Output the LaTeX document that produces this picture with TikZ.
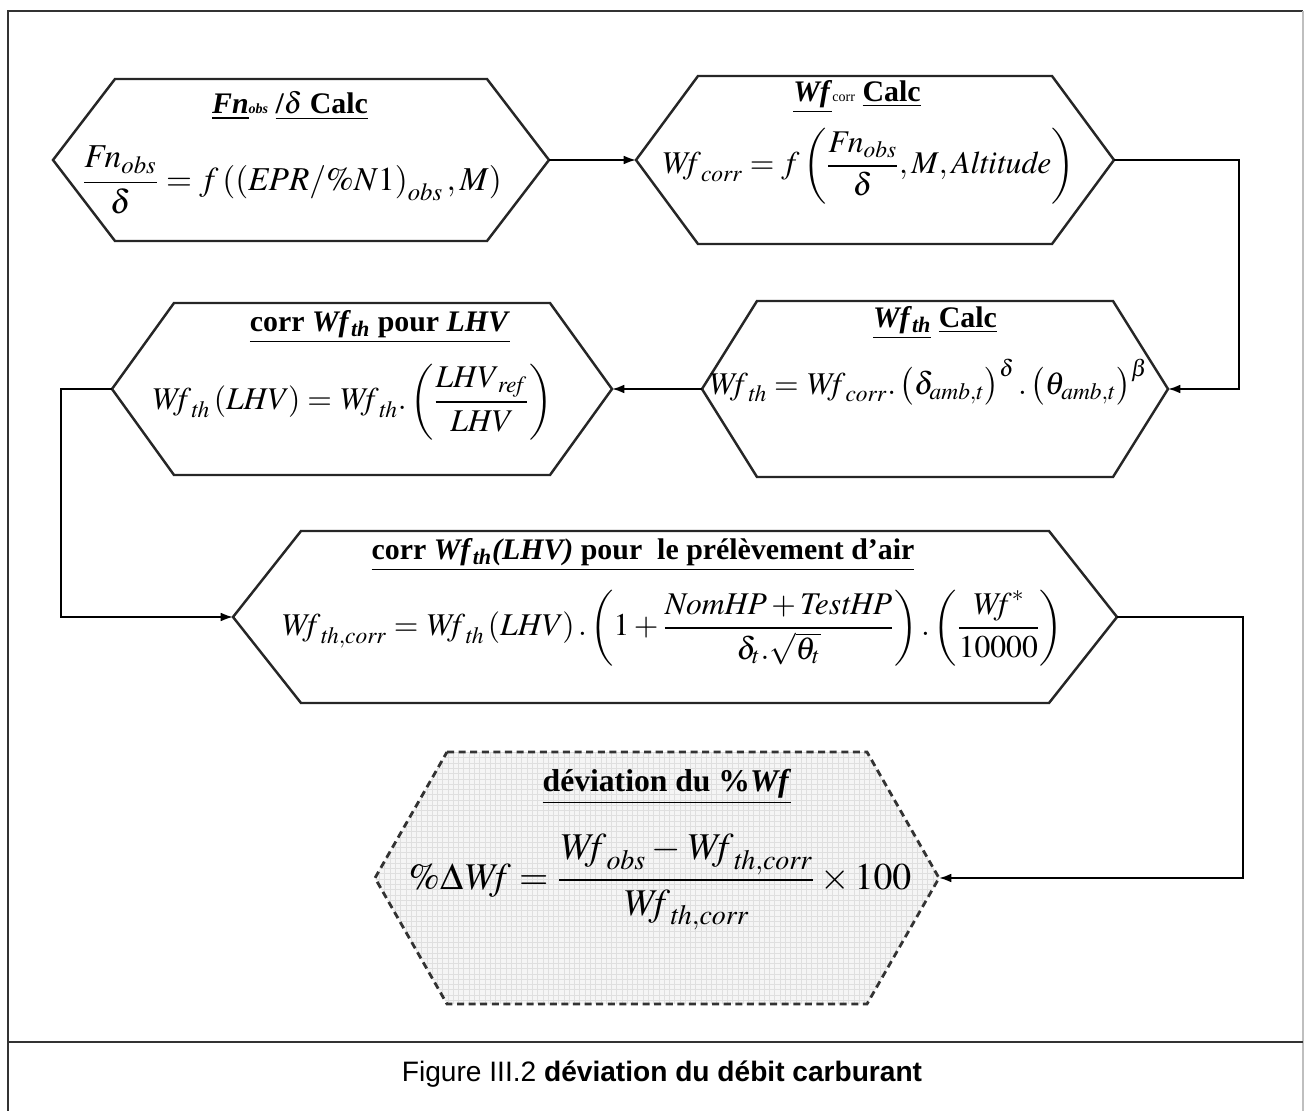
\documentclass[tikz,border=0pt]{standalone}
\usepackage{mathptmx}
\usepackage{amsmath}
\usepackage{fontspec}
\setmainfont{Liberation Serif}
\setsansfont{Liberation Sans}
\usetikzlibrary{positioning,calc,arrows.meta,patterns}

% hexagon round a centre coordinate: [style] name, half width, half height, tip
\newcommand{\hexbox}[5][]{%
  \draw[hexline,#1] ($(#2)+(-#3,-#4)$) -- ($(#2)+(#3,-#4)$) -- ($(#2)+(#3+#5,0)$) coordinate (#2-r)
    -- ($(#2)+(#3,#4)$) -- ($(#2)+(-#3,#4)$) -- ($(#2)+(-#3-#5,0)$) coordinate (#2-l) -- cycle;}

\begin{document}
\begin{tikzpicture}[
  x=0.02cm, y=-0.02cm,
  hexline/.style={draw=black!85, line width=1.4pt, line join=miter},
  devline/.style={draw=black!80, line width=1.6pt, dash pattern=on 4pt off 2.6pt,
    preaction={fill=gray!8}, pattern=grid, pattern color=gray!25},
  ttl/.style={font=\fontsize{17}{20}\selectfont\bfseries, inner sep=1pt},
  eqn/.style={font=\fontsize{18}{22}\selectfont, inner sep=1pt},
  capt/.style={font=\sffamily\fontsize{16}{19}\selectfont, inner sep=1pt},
  arr/.style={-{Latex[length=7pt,width=5pt]}, line width=1.1pt},
  frame/.style={line width=1.1pt, draw=black!80},
]
\useasboundingbox (0,0) rectangle (1305,1111);

% Frame
\draw[frame] (8,1111) |- (1303,11);
\draw[frame, draw=black!25, line width=0.6pt] (1303,11) -- (1303,1111);
\draw[frame] (8,1042) -- (1303,1042);

% Centres
\coordinate (fn)     at (301,160);
\coordinate (wfcorr) at (875,160);
\coordinate (wfth)   at (935,389);
\coordinate (lhv)    at (362,389);
\coordinate (bleed)  at (675,617);
\coordinate (dev)    at (657,878);

% Hexagons
\hexbox{fn}{186}{81}{62}
\hexbox{wfcorr}{177}{84}{62}
\hexbox{wfth}{178}{88}{55}
\hexbox{lhv}{188}{86}{62}
\hexbox{bleed}{374}{86}{68}
\hexbox[devline]{dev}{210}{126}{72}

% Row 1
\node[ttl] (fn-t) at (290,106) {\underline{\textit{Fn}}{\footnotesize\textit{obs}} \underline{/$\boldsymbol{\delta}$ Calc}};
\node[eqn, font=\fontsize{19}{23}\selectfont] (fn-f) at (292,180) {$\dfrac{\mathit{Fn}_{\mathit{obs}}}{\delta}=f\left(\left(\mathit{EPR}/\%N1\right)_{\mathit{obs}},M\right)$};

\node[ttl] (wfcorr-t) at (857,97) {\underline{\textit{Wf}}{\mdseries\footnotesize corr} \underline{Calc}};
\node[eqn] (wfcorr-f) at (868,166) {$\mathit{Wf}_{\mathit{corr}}=f\left(\dfrac{\mathit{Fn}_{\mathit{obs}}}{\delta},M,\mathit{Altitude}\right)$};

% Row 2
\node[ttl] (wfth-t) at (935,323) {\underline{\textit{Wf}\textsubscript{\textit{th}}} \underline{Calc}};
\node[eqn] (wfth-f) at (928,382) {$\mathit{Wf}_{\mathit{th}}=\mathit{Wf}_{\mathit{corr}}.\left(\delta_{\mathit{amb},t}\right)^{\delta}.\left(\theta_{\mathit{amb},t}\right)^{\beta}$};

\node[ttl] (lhv-t) at (380,327) {\underline{corr \textit{Wf}\textsubscript{\textit{th}} pour \textit{LHV}}};
\node[eqn] (lhv-f) at (352,402) {$\mathit{Wf}_{\mathit{th}}\left(\mathit{LHV}\right)=\mathit{Wf}_{\mathit{th}}.\left(\dfrac{\mathit{LHV}_{\mathit{ref}}}{\mathit{LHV}}\right)$};

% Row 3
\node[ttl] (bleed-t) at (643,555) {\underline{corr \textit{Wf}\textsubscript{\textit{th}}\textit{(LHV)} pour\ \ le prélèvement d'air}};
\node[eqn] (bleed-f) at (672,628) {$\mathit{Wf}_{\mathit{th,corr}}=\mathit{Wf}_{\mathit{th}}\left(\mathit{LHV}\right).\left(1+\dfrac{\mathit{NomHP}+\mathit{TestHP}}{\delta_{t}.\sqrt{\theta_{t}}}\right).\left(\dfrac{\mathit{Wf}^{*}}{10000}\right)$};

% Result
\node[ttl, font=\fontsize{18}{21}\selectfont\bfseries] (dev-t) at (667,787) {\underline{déviation du \%\textit{Wf}}};
\node[eqn, font=\fontsize{21.5}{26}\selectfont] (dev-f) at (660,882) {$\%\Delta \mathit{Wf}=\dfrac{\mathit{Wf}_{\mathit{obs}}-\mathit{Wf}_{\mathit{th,corr}}}{\mathit{Wf}_{\mathit{th,corr}}}\times 100$};

% Caption
\node[capt] (caption) at (662,1074) {Figure III.2 \textbf{déviation du débit carburant}};

% Arrows
\draw[arr] (fn-r) -- (wfcorr-l);
\draw[arr] (wfcorr-r) -- ++(125,0) |- (wfth-r);
\draw[arr] (wfth-l) -- (lhv-r);
\draw[arr] (lhv-l) -- ++(-51,0) |- (bleed-l);
\draw[arr] (bleed-r) -- ++(126,0) |- (dev-r);

\end{tikzpicture}
\end{document}
